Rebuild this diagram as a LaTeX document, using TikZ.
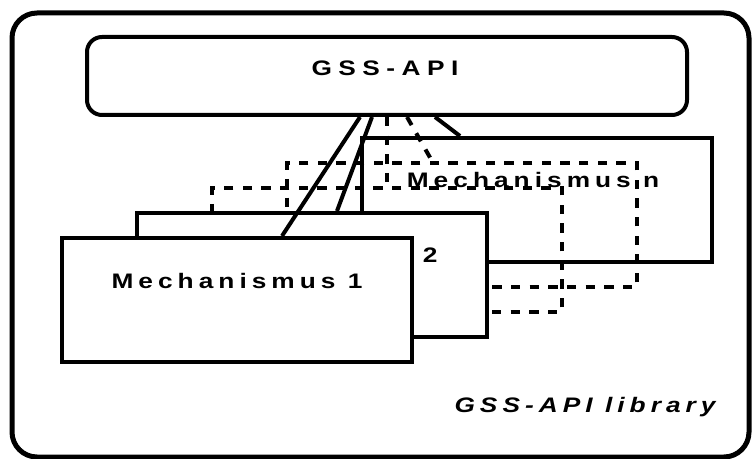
\documentclass[tikz,border=0pt]{standalone}
\usepackage{fontspec}
\newfontfamily\mechfont[FakeStretch=1.25,LetterSpace=24]{Liberation Sans Bold}
\newfontfamily\apifont[FakeStretch=1.25,LetterSpace=31]{Liberation Sans Bold}
\newfontfamily\libfont[FakeStretch=1.25,LetterSpace=24]{Liberation Sans Bold Italic}
\usetikzlibrary{calc}

\begin{document}
\begin{tikzpicture}[x=0.75pt,y=-0.75pt,line width=3pt,
  mechbox/.style={draw,fill=white,minimum width=262.5pt,minimum height=93pt,inner sep=0pt},
  ghostbox/.style={mechbox,fill=none,dash pattern=on 7pt off 7pt},
  ghostwire/.style={dash pattern=on 7pt off 7pt},
  mechtext/.style={font=\mechfont\fontsize{15.75}{18}\selectfont,inner sep=0pt,anchor=base}]
\useasboundingbox (0,0) rectangle (752,459);
\draw[line width=3.75pt,rounded corners=18.75pt] (12,13) rectangle (749,457);
\node[draw,rounded corners=11.25pt,minimum width=450pt,minimum height=58.5pt,inner sep=0pt] (api) at (387,76) {};
\node[mechtext,font=\apifont\fontsize{15.75}{18}\selectfont] (apilabel) at (385,76) {GSS-API};
\node[mechbox] (mn) at (537,200) {};
\node[mechtext] (mnlabel) at ($(mn.north)+(-4,52)$) {Mechanismus n};
\node[ghostbox] (m4) at (462,225) {};
\node[ghostbox] (m3) at (387,250) {};
\node[mechbox] (m2) at (312,275) {};
\node[mechtext] (m2label) at ($(m2.north)+(0,52)$) {Mechanismus 2};
\node[mechbox] (m1) at (237,300) {};
\node[mechtext] (m1label) at ($(m1.north)+(0,52)$) {Mechanismus 1};
\draw ($(api.south)+(-27,0)$) -- ($(m1.north)+(45,0)$);
\draw ($(api.south)+(-15,0)$) -- ($(m2.north)+(25,0)$);
\draw[ghostwire] (api.south) -- (m3.north);
\draw[ghostwire] ($(api.south)+(20,0)$) -- ($(m4.north)+(-30,0)$);
\draw ($(api.south)+(48,0)$) -- ($(mn.north)+(-77,0)$);
\node[mechtext,font=\libfont\fontsize{15.75}{18}\selectfont] (lib) at (585,412) {GSS-API library};
\end{tikzpicture}
\end{document}
